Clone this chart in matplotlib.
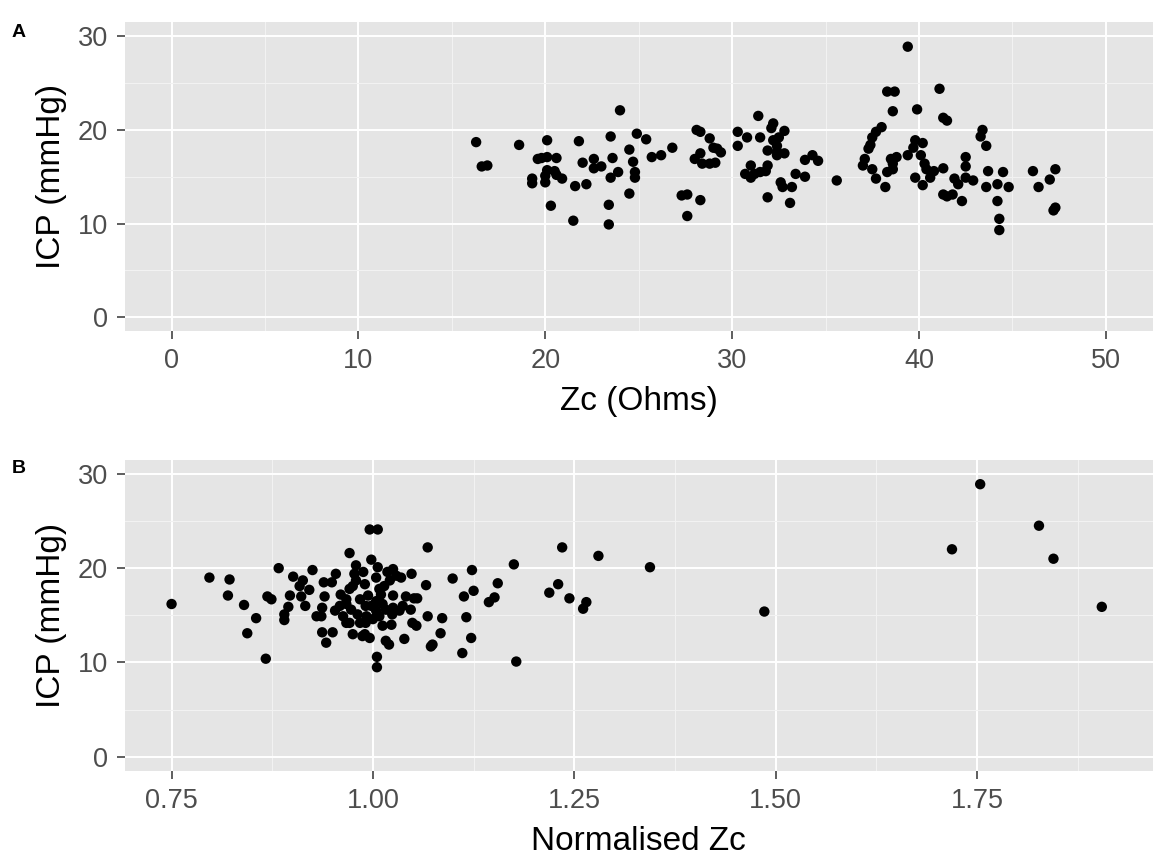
import numpy as np
import matplotlib
matplotlib.use("Agg")
import matplotlib.pyplot as plt
from matplotlib.ticker import MultipleLocator, FixedLocator

plt.rcParams['font.family'] = ['Liberation Sans', 'DejaVu Sans']

# ---------------------------------------------------------------
# panel A : ICP x Zc (Ohms)
# ---------------------------------------------------------------
zc_a = [16.3, 16.6, 16.9, 18.6, 20.1, 19.6, 19.8, 20.1, 20.6, 21.8, 22.0, 20.1, 20.5, 20.6,
        20.9, 20.0, 20.0, 19.3, 19.3, 21.6, 22.2, 20.3, 21.5,
        24.0, 23.5, 24.9, 25.4, 24.5, 23.6, 22.6, 23.0, 22.6, 24.7, 24.8, 24.8, 23.9, 23.5,
        24.5, 23.4, 23.4, 25.7, 26.2, 26.8, 28.1, 28.3, 28.8, 29.0, 29.2, 29.4, 28.3, 28.0,
        28.4, 28.8, 29.1, 27.3, 27.6, 28.3, 27.6, 30.3, 30.8, 30.3, 31.4, 31.5, 32.2, 32.1,
        32.8, 32.2, 32.5, 32.4, 31.9, 32.4, 32.8, 32.4, 31.0, 30.7, 31.0, 31.5, 31.9, 31.8,
        31.2, 32.6, 32.7, 33.2, 31.9, 33.1, 33.4, 33.9, 33.9, 34.3, 34.6, 35.6,
        39.4, 38.3, 38.7, 38.6, 41.1, 39.9, 41.3, 41.5, 38.0, 37.7, 37.5, 37.4, 37.3, 37.1,
        37.0, 37.5, 37.7, 38.2, 38.5, 38.8, 38.6, 38.3, 38.6, 39.4, 39.8, 40.2, 39.7, 40.1,
        40.3, 40.4, 40.8, 40.6, 39.8, 40.2, 41.3, 41.3, 41.5, 41.8, 42.3, 41.9, 42.1, 42.5,
        42.5, 42.5, 42.9, 43.4, 43.3, 43.6, 43.7, 43.6, 44.2, 44.5, 44.8, 44.2, 44.3, 44.3,
        46.1, 46.4, 47.3, 47.0, 47.3, 47.2]
icp_a = [18.7, 16.1, 16.2, 18.4, 18.9, 16.9, 17.0, 17.1, 17.0, 18.8, 16.5, 15.7, 15.6, 15.2,
         14.8, 15.1, 14.4, 14.8, 14.3, 14.0, 14.2, 11.9, 10.3,
         22.1, 19.3, 19.6, 19.0, 17.9, 17.0, 16.9, 16.1, 15.9, 16.6, 15.5, 14.9, 15.5, 14.9,
         13.2, 12.0, 9.9, 17.1, 17.3, 18.1, 20.0, 19.8, 19.1, 18.1, 18.0, 17.6, 17.5, 16.9,
         16.4, 16.4, 16.5, 13.0, 13.1, 12.5, 10.8, 19.8, 19.2, 18.3, 21.5, 19.2, 20.7, 20.2,
         19.9, 18.9, 19.2, 18.3, 17.8, 17.7, 17.5, 17.3, 16.2, 15.3, 14.9, 15.5, 16.2, 15.6,
         15.3, 14.4, 13.9, 13.9, 12.8, 12.2, 15.3, 15.0, 16.8, 17.3, 16.7, 14.6,
         28.9, 24.1, 24.1, 22.0, 24.4, 22.2, 21.3, 21.0, 20.3, 19.8, 19.2, 18.4, 18.0, 16.9,
         16.2, 15.8, 14.8, 13.9, 16.9, 17.1, 16.4, 15.5, 15.8, 17.3, 18.9, 18.6, 18.1, 17.3,
         16.4, 15.8, 15.6, 14.9, 14.9, 14.1, 15.9, 13.1, 12.9, 13.1, 12.4, 14.8, 14.2, 14.9,
         16.1, 17.1, 14.6, 20.0, 19.3, 18.3, 15.6, 13.9, 14.2, 15.5, 13.9, 12.4, 10.5, 9.3,
         15.6, 13.9, 15.8, 14.7, 11.7, 11.4]

# ---------------------------------------------------------------
# panel B : ICP x Zc normalizado
# ---------------------------------------------------------------
zcn_b = [0.750, 0.797, 0.822, 0.820, 0.840, 0.855, 0.844, 0.867, 0.869, 0.874, 0.883, 0.901,
         0.897, 0.895, 0.890, 0.890, 0.913, 0.909, 0.921, 0.911, 0.916, 0.925, 0.939, 0.949,
         0.954, 0.940, 0.937, 0.930, 0.936, 0.937, 0.950, 0.942, 0.971, 0.996, 1.006, 0.998,
         0.979, 0.977, 0.988, 1.006, 0.975, 0.990, 0.971, 0.967, 0.959, 0.953, 0.963, 0.973,
         0.984, 0.994, 0.998, 1.004, 0.992, 0.984, 0.975, 0.990, 0.996, 0.967, 1.004, 1.008,
         1.012, 1.012, 1.016, 1.020, 1.005, 1.005, 1.025, 1.021, 1.025, 1.025, 1.023, 1.029,
         1.000,
         1.018, 0.979, 1.014, 1.010, 0.967, 0.991, 1.004, 1.016, 0.981, 1.024, 0.971, 0.991,
         0.987, 1.008, 0.960,
         1.068, 1.035, 1.048, 1.066, 1.041, 1.051, 1.055, 1.037, 1.047, 1.033, 1.068, 1.086,
         1.049, 1.054, 1.039, 1.084, 1.072, 1.074, 1.099, 1.111, 1.116, 1.122, 1.113, 1.125,
         1.123, 1.144, 1.151, 1.155, 1.175, 1.178, 1.235, 1.230, 1.219, 1.244, 1.265, 1.261,
         1.280, 1.344, 1.486, 1.719, 1.754, 1.827, 1.845, 1.905]
icp_b = [16.2, 19.0, 18.8, 17.1, 16.1, 14.7, 13.1, 10.4, 17.0, 16.7, 20.0, 19.1,
         17.1, 15.9, 15.1, 14.5, 18.7, 18.1, 17.7, 17.0, 16.0, 19.8, 18.5, 18.5,
         19.4, 17.0, 15.8, 14.9, 14.9, 13.2, 13.2, 12.1, 21.6, 24.1, 24.1, 20.9,
         20.3, 19.4, 19.6, 20.1, 18.1, 18.3, 17.8, 16.7, 16.0, 15.5, 14.9, 15.6,
         16.7, 17.1, 16.0, 15.5, 14.9, 14.2, 13.0, 13.0, 12.6, 14.2, 19.0, 17.8,
         16.2, 13.9, 12.3, 11.9, 10.6, 9.5, 19.9, 18.7, 17.1, 15.8, 14.0, 19.2,
         14.6,
         19.6, 18.7, 18.1, 17.2, 16.2, 16.0, 16.5, 15.6, 15.1, 15.1, 14.2, 14.2,
         12.8, 14.9, 17.2,
         22.2, 19.0, 19.4, 18.2, 17.0, 16.8, 16.8, 16.0, 15.6, 15.5, 14.9, 14.7,
         14.2, 13.9, 12.5, 13.1, 11.7, 11.9, 18.9, 11.0, 14.8, 12.6, 17.0, 17.6,
         19.8, 16.4, 16.9, 18.4, 20.4, 10.1, 22.2, 18.3, 17.4, 16.8, 16.4, 15.7,
         21.3, 20.1, 15.4, 22.0, 28.9, 24.5, 21.0, 15.9]

cor_fundo = '#E5E5E5'
cor_texto = '#4D4D4D'


def estilo_ggplot(ax):
    ax.set_facecolor(cor_fundo)
    for s in ax.spines.values():
        s.set_visible(False)
    ax.grid(True, which='major', color='white', lw=1.4)
    ax.grid(True, which='minor', color='#F2F2F2', lw=0.8)
    ax.set_axisbelow(True)
    ax.tick_params(which='major', length=6, width=1.1, color='#333333',
                   labelsize=19.5, labelcolor=cor_texto, pad=6)
    ax.tick_params(which='minor', length=0)


fig = plt.figure(figsize=(11.56, 8.6), dpi=100)

# ---- A
ax1 = fig.add_axes([0.108, 0.615, 0.889, 0.359])
ax1.scatter(zc_a, icp_a, s=56, color='black', edgecolors='none', zorder=3)
ax1.set_xlim(-2.5, 52.5)
ax1.set_ylim(-1.5, 31.5)
ax1.xaxis.set_major_locator(MultipleLocator(10))
ax1.xaxis.set_minor_locator(MultipleLocator(5))
ax1.yaxis.set_major_locator(MultipleLocator(10))
ax1.yaxis.set_minor_locator(MultipleLocator(5))
estilo_ggplot(ax1)
ax1.set_xlabel('Zc (Ohms)', fontsize=24, labelpad=9)
ax1.set_ylabel('ICP (mmHg)', fontsize=24, labelpad=8)

# ---- B
ax2 = fig.add_axes([0.108, 0.1035, 0.889, 0.362])
ax2.scatter(zcn_b, icp_b, s=56, color='black', edgecolors='none', zorder=3)
ax2.set_xlim(0.692, 1.968)
ax2.set_ylim(-1.5, 31.5)
ax2.xaxis.set_major_locator(FixedLocator([0.75, 1.00, 1.25, 1.50, 1.75]))
ax2.xaxis.set_minor_locator(FixedLocator([0.875, 1.125, 1.375, 1.625, 1.875]))
ax2.set_xticklabels(['0.75', '1.00', '1.25', '1.50', '1.75'])
ax2.yaxis.set_major_locator(MultipleLocator(10))
ax2.yaxis.set_minor_locator(MultipleLocator(5))
estilo_ggplot(ax2)
ax2.set_xlabel('Normalised Zc', fontsize=24, labelpad=9)
ax2.set_ylabel('ICP (mmHg)', fontsize=24, labelpad=8)

fig.text(0.010, 0.962, 'A', fontsize=14, fontweight='bold', ha='left', va='center')
fig.text(0.010, 0.455, 'B', fontsize=14, fontweight='bold', ha='left', va='center')

plt.savefig('out.png', dpi=100)
